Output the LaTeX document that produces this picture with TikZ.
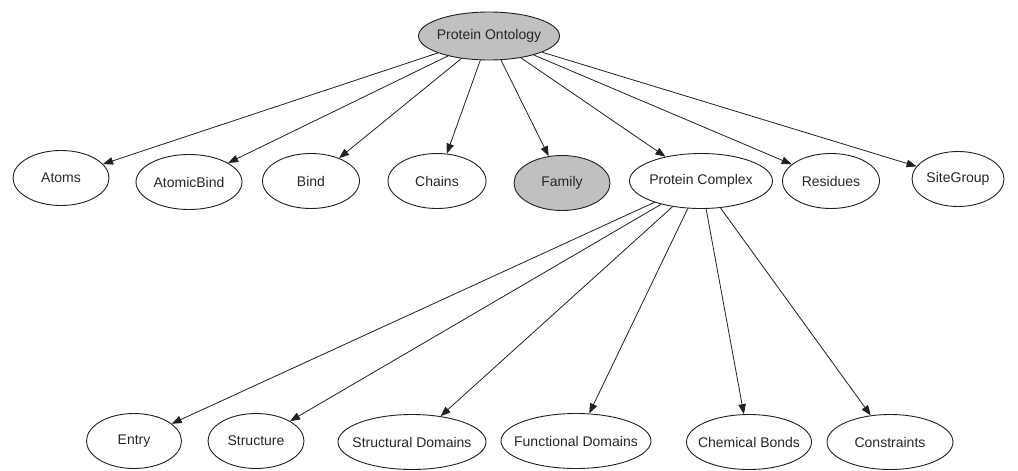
\documentclass[tikz,border=0pt]{standalone}
\usepackage{fontspec}
\setmainfont{Liberation Sans}
\usetikzlibrary{shapes.geometric,arrows.meta}
\definecolor{shade}{HTML}{C0C0C0}
\definecolor{ink}{HTML}{202020}
% zero-width label box so that the ellipse size is set by the minimum size keys
\newcommand\tag[1]{\makebox[0pt]{#1}}
\tikzset{
  concept/.style={ellipse, draw=ink, line width=0.9pt, inner sep=0pt,
    minimum height=55pt, font=\fontsize{14}{16}\selectfont, text=black!85},
  topic/.style={concept, fill=shade},
  link/.style={draw=ink, line width=0.8pt, -{Triangle[length=10pt,width=7.5pt]}}
}
\begin{document}
\begin{tikzpicture}[x=1pt,y=-1pt]
\useasboundingbox (0,0) rectangle (1018,471);
% root
\node[topic, minimum width=141pt, minimum height=48pt] (po) at (489,36) {\tag{Protein Ontology}};
% second level
\node[concept, minimum width=96pt]  (atoms)  at (61,178)  {\tag{Atoms}};
\node[concept, minimum width=106pt] (abind)  at (189,182) {\tag{AtomicBind}};
\node[concept, minimum width=97pt]  (bind)   at (311,181) {\tag{Bind}};
\node[concept, minimum width=98pt]  (chains) at (437,181) {\tag{Chains}};
\node[topic,   minimum width=96pt]  (family) at (562,183) {\tag{Family}};
\node[concept, minimum width=143pt] (pc)     at (701,181) {\tag{Protein Complex}};
\node[concept, minimum width=97pt]  (res)    at (831,181) {\tag{Residues}};
\node[concept, minimum width=92pt]  (site)   at (958,179) {\tag{SiteGroup}};
% third level
\node[concept, minimum width=95pt]  (entry)  at (134,441) {\tag{Entry}};
\node[concept, minimum width=96pt]  (struct) at (256,441) {\tag{Structure}};
\node[concept, minimum width=148pt] (sdom)   at (412,442) {\tag{Structural Domains}};
\node[concept, minimum width=150pt] (fdom)   at (576,441) {\tag{Functional Domains}};
\node[concept, minimum width=125pt] (chem)   at (749,442) {\tag{Chemical Bonds}};
\node[concept, minimum width=126pt] (cons)   at (890,442) {\tag{Constraints}};
% edges
\foreach \c in {atoms,abind,bind,chains,family,pc,res,site}
  \draw[link] (po) -- (\c);
\foreach \c in {entry,struct,sdom,fdom,chem,cons}
  \draw[link] (pc) -- (\c);
\end{tikzpicture}
\end{document}
